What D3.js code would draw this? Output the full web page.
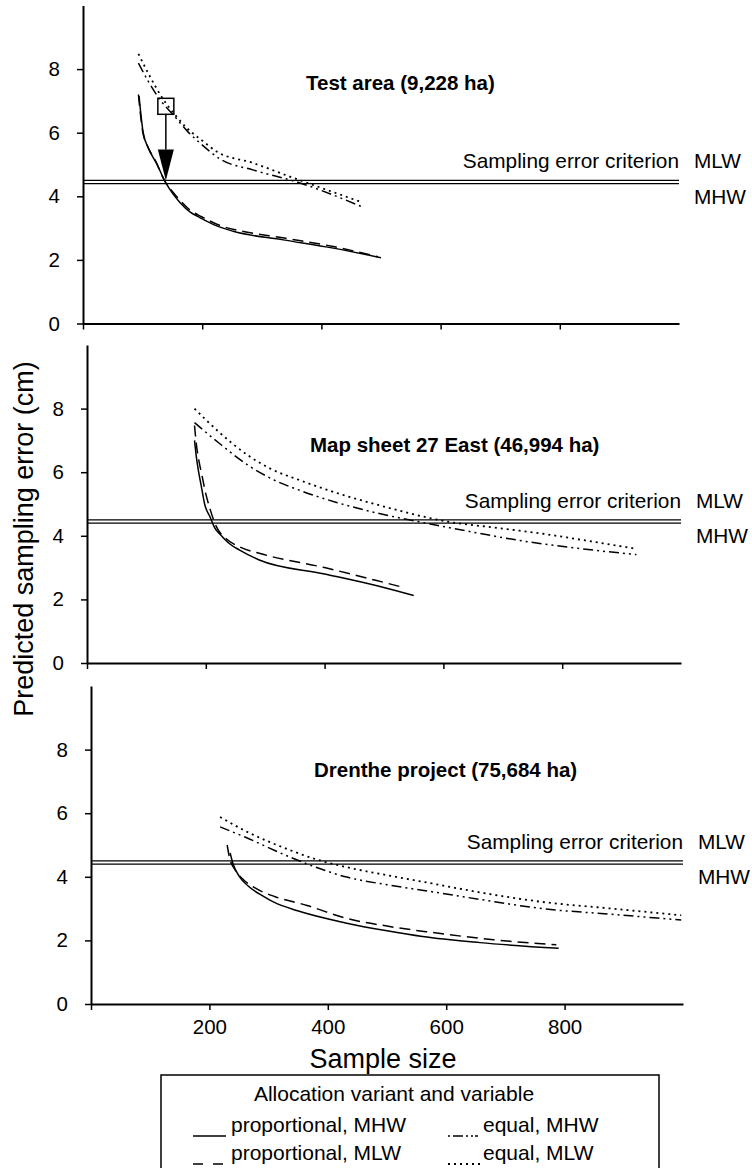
<!DOCTYPE html>
<html>
<head>
<meta charset="utf-8">
<script src="https://cdn.jsdelivr.net/npm/d3@7"></script>
<style>
  body { margin: 0; background: #fff; }
  svg { display: block; font-family: "Liberation Sans", Arial, sans-serif; }
</style>
</head>
<body>
<script>
// values, [sample size, predicted sampling error (cm)]
const panelTitles = ["Test area (9,228 ha)", "Map sheet 27 East (46,994 ha)", "Drenthe project (75,684 ha)"];
const seriesNames = ["proportional, MHW", "proportional, MLW", "equal, MHW", "equal, MLW"];
const xTicks = [0, 200, 400, 600, 800];
const yTicks = [0, 2, 4, 6, 8];
const criterionMLW = 4.5;
const criterionMHW = 4.4;

const testPropMHW = [[94,7.15],[97,6.6],[101,6.0],[110,5.5],[123,5.05],[139,4.42],[150,4.1],[163,3.8],[180,3.5],[196,3.33],[220,3.1],[252,2.9],[336,2.63],[420,2.37],[500,2.07]];
const testPropMLW = [[93,7.2],[96,6.65],[100,6.05],[109,5.55],[122,5.1],[138,4.45],[150,4.15],[164,3.85],[180,3.56],[200,3.35],[230,3.08],[260,2.93],[340,2.68],[420,2.42],[495,2.1]];
const testEqualMHW = [[93,8.19],[110,7.6],[129,7.04],[151,6.57],[175,6.05],[196,5.68],[232,5.15],[285,4.83],[364,4.42],[467,3.68]];
const testEqualMLW = [[93,8.48],[110,7.85],[135,7.04],[155,6.55],[174,6.15],[200,5.75],[224,5.41],[285,5.05],[347,4.62],[467,3.82]];

const mapPropMHW = [[181,7.0],[184,6.5],[188,6.0],[193,5.5],[198,5.0],[207,4.6],[215,4.25],[224,4.05],[240,3.75],[257,3.55],[290,3.24],[400,2.8],[490,2.42],[550,2.12]];
const mapPropMLW = [[181,7.47],[184,6.9],[189,6.3],[193,5.95],[199,5.4],[207,4.85],[218,4.28],[235,3.9],[257,3.65],[296,3.42],[400,3.0],[486,2.6],[534,2.37]];
const mapEqualMHW = [[181,7.56],[220,6.95],[271,6.22],[310,5.8],[358,5.43],[420,5.05],[492,4.7],[559,4.44],[640,4.15],[726,3.86],[820,3.62],[925,3.41]];
const mapEqualMLW = [[181,8.0],[220,7.3],[271,6.53],[310,6.1],[358,5.75],[420,5.35],[492,4.96],[609,4.44],[690,4.25],[765,4.07],[850,3.82],[922,3.6]];

const drenthePropMHW = [[235,4.75],[240,4.4],[251,4.0],[265,3.72],[290,3.4],[308,3.21],[349,2.93],[430,2.55],[500,2.3],[560,2.12],[657,1.93],[790,1.75]];
const drenthePropMLW = [[230,5.0],[234,4.6],[244,4.2],[258,3.9],[280,3.62],[310,3.38],[365,3.1],[430,2.7],[500,2.45],[576,2.25],[680,2.02],[786,1.86]];
const drentheEqualMHW = [[218,5.57],[260,5.25],[336,4.62],[380,4.3],[430,4.0],[500,3.75],[576,3.53],[660,3.28],[762,3.0],[880,2.82],[997,2.64]];
const drentheEqualMLW = [[218,5.88],[260,5.45],[336,4.84],[380,4.55],[430,4.31],[500,4.05],[576,3.79],[660,3.5],[762,3.21],[880,3.0],[997,2.79]];

// the boxed point and arrow in the test area panel
const arrowSample = 139;
const arrowFrom = 6.83;
const arrowTo = 4.5;

const width = 752, height = 1168;
const dashes = [null, "11,6", "10,4,2,4,2,4", "2,4"];

// layout of the three stacked panels (the scan is slightly skewed)
const panels = [
  {series: [testPropMHW, testPropMLW, testEqualMHW, testEqualMLW], top: 5.5, left: 83, right: 679, titleY: 7.35},
  {series: [mapPropMHW, mapPropMLW, mapEqualMHW, mapEqualMLW], top: 345, left: 87, right: 681, titleY: 6.63},
  {series: [drenthePropMHW, drenthePropMLW, drentheEqualMHW, drentheEqualMLW], top: 686, left: 91, right: 683, titleY: 7.15}
];
const panelHeight = 318;

const svg = d3.select('body')
                .append('svg')
                .attr('width', width)
                .attr('height', height);

panels.forEach((p, pi) => {
  const x = d3.scaleLinear().domain([0, 1000]).range([p.left, p.right]);
  const y = d3.scaleLinear().domain([0, 10]).range([p.top + panelHeight, p.top]);
  const g = svg.append('g');

  // y axis
  const yAxis = g.append('g')
      .attr('transform', `translate(${p.left},0)`)
      .call(d3.axisLeft(y).tickValues(yTicks).tickSize(6).tickSizeOuter(0).tickPadding(17));
  // x axis
  const xAxis = g.append('g')
      .attr('transform', `translate(0,${y(0)})`)
      .call(d3.axisBottom(x).tickValues(xTicks).tickSize(6).tickSizeOuter(0).tickPadding(9)
            .tickFormat(d => (pi == 2 && d != 0) ? d : ''));

  [yAxis, xAxis].forEach(a => {
    a.select('.domain').attr('stroke-width', 2);
    a.selectAll('.tick line').attr('stroke-width', 1.5);
    a.selectAll('text').attr('font-size', 20.5).attr('font-family', '"Liberation Sans", Arial, sans-serif').attr('fill', '#000');
  });

  // criterion lines
  g.selectAll('line.crit')
    .data([criterionMLW, criterionMHW])
    .enter()
    .append('line')
    .attr('x1', x(0)).attr('x2', x(1000))
    .attr('y1', d => y(d)).attr('y2', d => y(d))
    .attr('stroke', '#000')
    .attr('stroke-width', 1.4);

  g.append('text')
    .attr('x', x(1000))
    .attr('y', y(criterionMLW) - 12)
    .attr('text-anchor', 'end')
    .attr('font-size', 20.8)
    .text('Sampling error criterion');
  g.append('text')
    .attr('x', x(1000) + 15)
    .attr('y', y(criterionMLW) - 12)
    .attr('font-size', 20.8)
    .text('MLW');
  g.append('text')
    .attr('x', x(1000) + 15)
    .attr('y', y(criterionMHW) + 20)
    .attr('font-size', 20.8)
    .text('MHW');

  // panel title
  g.append('text')
    .attr('x', p.left + 223)
    .attr('y', y(p.titleY))
    .attr('font-size', 20.5)
    .attr('font-weight', 'bold')
    .text(panelTitles[pi]);

  // curves
  const line = d3.line()
      .x(d => x(d[0]))
      .y(d => y(d[1]))
      .curve(d3.curveMonotoneX);

  g.selectAll('path.series')
    .data(p.series)
    .enter()
    .append('path')
    .attr('class', 'series')
    .attr('d', d => line(d))
    .attr('fill', 'none')
    .attr('stroke', '#000')
    .attr('stroke-width', (d, i) => i == 3 ? 1.8 : 1.5)
    .attr('stroke-dasharray', (d, i) => dashes[i]);

  if (pi == 0) {
    const ax = x(arrowSample);
    g.append('rect')
      .attr('x', ax - 8).attr('y', y(arrowFrom) - 8)
      .attr('width', 16).attr('height', 16)
      .attr('fill', 'none')
      .attr('stroke', '#000')
      .attr('stroke-width', 1.5);
    const headTop = y(arrowTo) - 31;
    g.append('line')
      .attr('x1', ax).attr('x2', ax)
      .attr('y1', y(arrowFrom) + 8).attr('y2', headTop)
      .attr('stroke', '#000')
      .attr('stroke-width', 1.5);
    g.append('path')
      .attr('d', `M${ax - 8},${headTop}L${ax + 8},${headTop}L${ax},${y(arrowTo)}Z`)
      .attr('fill', '#000');
  }
});

// axis titles
svg.append('text')
  .attr('transform', 'translate(33,539) rotate(-90)')
  .attr('text-anchor', 'middle')
  .attr('font-size', 27)
  .text('Predicted sampling error (cm)');

svg.append('text')
  .attr('x', 383)
  .attr('y', 1068)
  .attr('text-anchor', 'middle')
  .attr('font-size', 27)
  .text('Sample size');

// legend
const legend = svg.append('g');
legend.append('rect')
  .attr('x', 161).attr('y', 1075)
  .attr('width', 498).attr('height', 150)
  .attr('fill', 'none')
  .attr('stroke', '#000')
  .attr('stroke-width', 1.5);
legend.append('text')
  .attr('x', 394).attr('y', 1101)
  .attr('text-anchor', 'middle')
  .attr('font-size', 21)
  .text('Allocation variant and variable');

const legendItems = legend.selectAll('g.item')
  .data(seriesNames)
  .enter()
  .append('g')
  .attr('class', 'item')
  .attr('transform', (d, i) => `translate(${i < 2 ? 193 : 448},${i % 2 == 0 ? 1132 : 1160})`);

legendItems.append('line')
  .attr('x1', 0).attr('x2', 33)
  .attr('y1', 4).attr('y2', 4)
  .attr('stroke', '#000')
  .attr('stroke-width', (d, i) => i == 3 ? 1.8 : 1.5)
  .attr('stroke-dasharray', (d, i) => [null, "10,10", "2,3,10,3,2,3,2", "2,4"][i]);

legendItems.append('text')
  .attr('x', (d, i) => i < 2 ? 38 : 35)
  .attr('font-size', 21)
  .text(d => d);
</script>
</body>
